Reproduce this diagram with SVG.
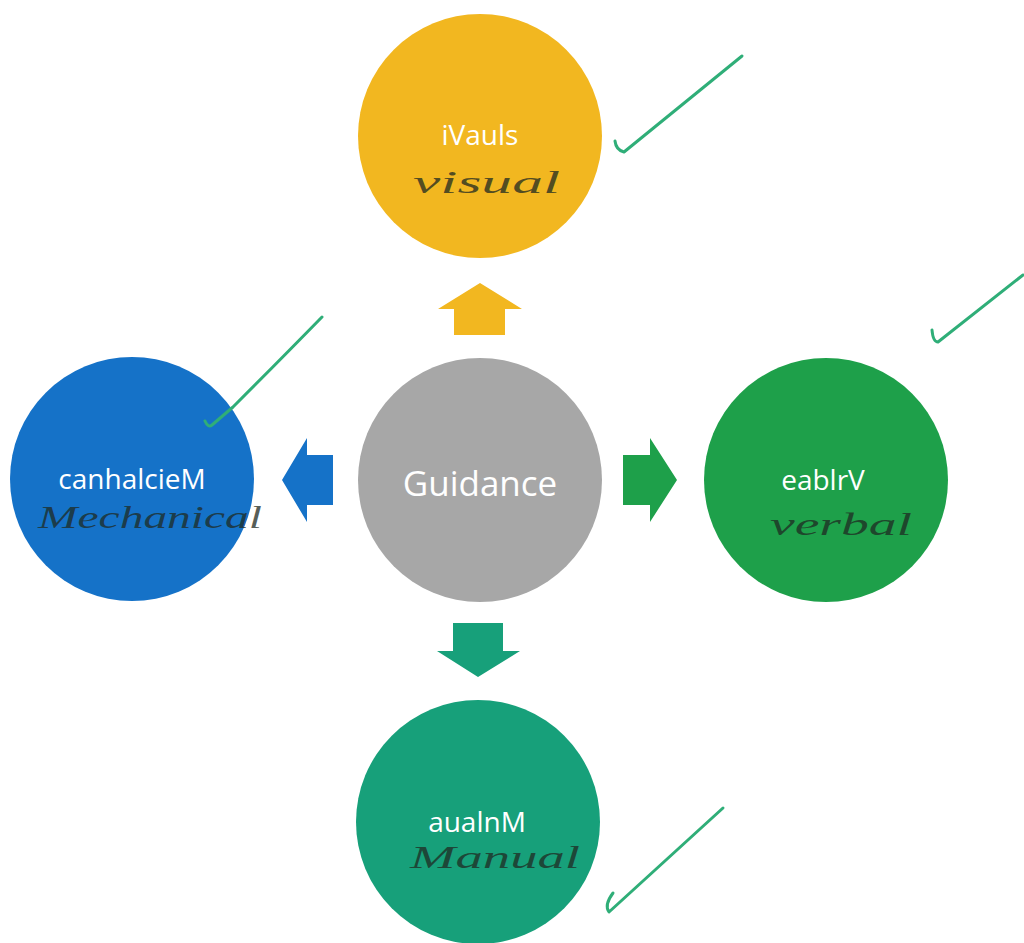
<svg xmlns="http://www.w3.org/2000/svg" width="1024" height="943" viewBox="0 0 1024 943">
<style>
.lbl{font-family:"Open Sans","Noto Sans",sans-serif;font-size:28px;fill:#ffffff;text-anchor:middle}
.hand{font-family:"Liberation Serif",serif;font-style:italic;font-size:32px;fill:#1f2a22;fill-opacity:0.75}
.tick{fill:none;stroke:#2fae78;stroke-width:3;stroke-linecap:round;stroke-linejoin:round}
</style>
<rect width="1024" height="943" fill="#ffffff"/>
<g id="connectors">
<polygon id="arrow-up" points="480,283 522,309 505,309 505,335 454,335 454,309 438,309" fill="#F2B720"/>
<polygon id="arrow-left" points="282,480 307,438 307,455 333,455 333,505 307,505 307,522" fill="#1572C8"/>
<polygon id="arrow-right" points="677,480 650,438 650,455 623,455 623,505 650,505 650,522" fill="#1EA04A"/>
<polygon id="arrow-down" points="478,677 520,651 503,651 503,623 453,623 453,651 437,651" fill="#17A07A"/>
</g>
<g id="node-visual">
<circle cx="480" cy="136" r="122" fill="#F2B720"/>
<text class="lbl" x="480" y="145">iVauls</text>
<text class="hand" x="413" y="193" textLength="147" lengthAdjust="spacingAndGlyphs">visual</text>
<path class="tick" d="M615,141 Q616,150 624,152 L742,56"/>
</g>
<g id="node-mechanical">
<circle cx="132" cy="479" r="122" fill="#1572C8"/>
<text class="lbl" x="132" y="489">canhalcieM</text>
<text class="hand" x="38" y="528" textLength="224" lengthAdjust="spacingAndGlyphs">Mechanical</text>
<path class="tick" d="M205,421 Q208,428 212,425 L233,407 Q280,360 322,317"/>
</g>
<g id="node-guidance">
<circle cx="480" cy="480" r="122" fill="#A7A7A7"/>
<text class="lbl" x="480" y="496" style="font-size:35px">Guidance</text>
</g>
<g id="node-verbal">
<circle cx="826" cy="480" r="122" fill="#1EA04A"/>
<text class="lbl" x="823" y="490">eablrV</text>
<text class="hand" x="770" y="535" textLength="142" lengthAdjust="spacingAndGlyphs">verbal</text>
<path class="tick" d="M932,330 Q933,342 938,342 L1023,275"/>
</g>
<g id="node-manual">
<circle cx="478" cy="822" r="122" fill="#17A07A"/>
<text class="lbl" x="477" y="832">aualnM</text>
<text class="hand" x="410" y="868" textLength="170" lengthAdjust="spacingAndGlyphs">Manual</text>
<path class="tick" d="M613,893 Q604,905 609,912 L723,808"/>
</g>
</svg>
